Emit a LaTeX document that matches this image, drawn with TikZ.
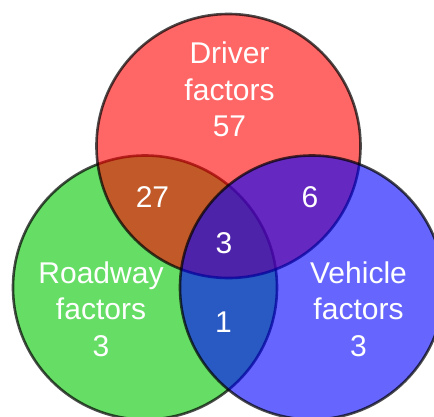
\documentclass[tikz,border=0pt]{standalone}
\usepackage{fontspec}
\setmainfont{Liberation Sans}
\begin{document}
\begin{tikzpicture}[x=1pt,y=-1pt,
  setcircle/.style={fill opacity=0.6, draw=black, draw opacity=0.7, line width=2.6pt},
  lbl/.style={text=white, font=\fontsize{30}{36.4}\selectfont, align=center, anchor=base, inner sep=0pt}]
  \useasboundingbox (0,0) rectangle (434,416);
  \clip (0,0) rectangle (434,416);
  % the three sets, drawn in this order so their overlaps blend
  \definecolor{setgreen}{RGB}{0,200,0}
  \definecolor{setred}{RGB}{255,0,0}
  \definecolor{setblue}{RGB}{0,0,255}
  \draw[setcircle, fill=setgreen] (145,287.5) circle (132);
  \draw[setcircle, fill=setred] (228.5,146) circle (132);
  \draw[setcircle, fill=setblue] (312,287.5) circle (132);
  % labels (a multi-line label sits on the baseline of its last line)
  \node[lbl] (driver) at (229.5,136.7) {Driver\\factors\\57};
  \node[lbl] (roadway) at (101,356) {Roadway\\factors\\3};
  \node[lbl] (vehicle) at (358.5,356) {Vehicle\\factors\\3};
  \node[lbl] (dr) at (152.5,207) {27};
  \node[lbl] (dv) at (310,207) {6};
  \node[lbl] (all) at (224,253) {3};
  \node[lbl] (rv) at (223.5,332) {1};
\end{tikzpicture}
\end{document}
